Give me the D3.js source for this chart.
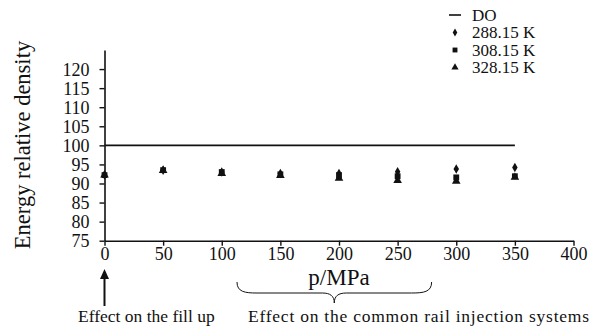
<!DOCTYPE html>
<html>
<head>
<meta charset="utf-8">
<script src="https://cdn.jsdelivr.net/npm/d3@7"></script>
<style>
  body { margin: 0; background: #fff; }
  svg text { font-family: "Liberation Serif", "Times New Roman", serif !important; fill: #111; }
</style>
</head>
<body>
<script>
var width = 599;
var height = 329;

// data
var pressures = [0, 50, 100, 150, 200, 250, 300, 350];
var t288 = [92.2, 93.5, 93.0, 92.6, 92.6, 93.1, 93.8, 94.2];
var t308 = [92.2, 93.5, 93.0, 92.4, 92.2, 91.9, 91.6, 91.9];
var t328 = [92.2, 93.4, 92.6, 92.1, 91.4, 90.8, 90.6, 91.6];
var doValue = 100;
var xTicks = [0, 50, 100, 150, 200, 250, 300, 350, 400];
var yTicks = [75, 80, 85, 90, 95, 100, 105, 110, 115, 120];
var legendNames = ["DO", "288.15 K", "308.15 K", "328.15 K"];

var serif = "'Liberation Serif', 'Times New Roman', serif";

var svg = d3.select("body").append("svg")
    .attr("width", width)
    .attr("height", height);

var x = d3.scaleLinear().domain([0, 400]).range([104.5, 573.5]);
var y = d3.scaleLinear().domain([75, 125]).range([240.7, 50]);

// x axis
var xAxis = svg.append("g")
    .attr("transform", "translate(0," + y(75) + ")")
    .call(d3.axisBottom(x).tickValues(xTicks).tickSize(5).tickSizeOuter(0).tickPadding(2));
xAxis.attr("font-family", serif).attr("font-size", 18);
xAxis.select(".domain").attr("stroke", "#111").attr("stroke-width", 1.6);
xAxis.selectAll(".tick line").attr("stroke", "#111").attr("stroke-width", 1.4);
xAxis.selectAll("text").attr("font-family", serif).style("font-size", "18px");

// y axis
var yAxis = svg.append("g")
    .attr("transform", "translate(" + x(0) + ",0)")
    .call(d3.axisLeft(y).tickValues(yTicks).tickSize(5).tickSizeOuter(0).tickPadding(10));
yAxis.attr("font-family", serif).attr("font-size", 18);
yAxis.select(".domain").attr("stroke", "#111").attr("stroke-width", 1.6);
yAxis.selectAll(".tick line").attr("stroke", "#111").attr("stroke-width", 1.4);
yAxis.selectAll("text").attr("font-family", serif).style("font-size", "18px").attr("dy", "0.33em");

// DO reference line
svg.append("line")
    .attr("x1", x(0)).attr("x2", x(350))
    .attr("y1", y(doValue)).attr("y2", y(doValue))
    .attr("stroke", "#111").attr("stroke-width", 1.6);

var series = [
  { vals: t288, shape: d3.symbolDiamond, size: 26 },
  { vals: t308, shape: d3.symbolSquare, size: 34 },
  { vals: t328, shape: d3.symbolTriangle, size: 32 }
];

series.forEach(function (s) {
    svg.selectAll(null)
        .data(s.vals)
        .enter()
        .append("path")
        .attr("d", d3.symbol().type(s.shape).size(s.size))
        .attr("transform", function (d, i) {
            return "translate(" + x(pressures[i]) + "," + y(d) + ")";
        })
        .attr("fill", "#111");
});

// legend
var legend = svg.append("g").attr("transform", "translate(449,15)");
legendNames.forEach(function (name, i) {
    var g = legend.append("g").attr("transform", "translate(0," + (i * 17.5) + ")");
    if (i === 0) {
        g.append("line").attr("x1", 0).attr("x2", 12).attr("stroke", "#111").attr("stroke-width", 1.6);
    } else {
        g.append("path")
            .attr("d", d3.symbol().type(series[i - 1].shape).size(series[i - 1].size * 0.7))
            .attr("transform", "translate(6,0)")
            .attr("fill", "#111");
    }
    g.append("text").attr("x", 23).attr("dy", "0.33em")
        .style("font-size", "17px").text(name);
});

// y title
svg.append("text")
    .attr("transform", "translate(30,145) rotate(-90)")
    .attr("text-anchor", "middle")
    .style("font-size", "22.5px")
    .text("Energy relative density");

// x title
svg.append("text")
    .attr("x", x(200)).attr("y", 285)
    .attr("text-anchor", "middle")
    .style("font-size", "23px")
    .text("p/MPa");

// brace under the common rail range
var b0 = x(113), b1 = x(279), bm = (b0 + b1) / 2, bt = 282, bb = 303;
svg.append("path")
    .attr("d", "M" + b0 + "," + bt +
        " C" + b0 + "," + (bt + 10) + " " + (b0 + 8) + "," + (bt + 11) + " " + (b0 + 20) + "," + (bt + 11) +
        " L" + (bm - 12) + "," + (bt + 11) +
        " C" + (bm - 4) + "," + (bt + 11) + " " + bm + "," + (bt + 14) + " " + bm + "," + bb +
        " C" + bm + "," + (bt + 14) + " " + (bm + 4) + "," + (bt + 11) + " " + (bm + 12) + "," + (bt + 11) +
        " L" + (b1 - 20) + "," + (bt + 11) +
        " C" + (b1 - 8) + "," + (bt + 11) + " " + b1 + "," + (bt + 10) + " " + b1 + "," + bt)
    .attr("fill", "none").attr("stroke", "#111").attr("stroke-width", 1);

// arrow at p = 0
svg.append("line")
    .attr("x1", x(0)).attr("x2", x(0))
    .attr("y1", 306).attr("y2", 276)
    .attr("stroke", "#111").attr("stroke-width", 2);
svg.append("path")
    .attr("d", "M" + (x(0) - 4.5) + ",279 L" + x(0) + ",269 L" + (x(0) + 4.5) + ",279 Z")
    .attr("fill", "#111");

svg.append("text")
    .attr("x", 78).attr("y", 322)
    .style("font-size", "17.5px")
    .text("Effect on the fill up");
svg.append("text")
    .attr("x", 248).attr("y", 322)
    .style("font-size", "17.5px")
    .attr("textLength", 341)
    .attr("lengthAdjust", "spacing")
    .text("Effect on the common rail injection systems");
</script>
</body>
</html>
